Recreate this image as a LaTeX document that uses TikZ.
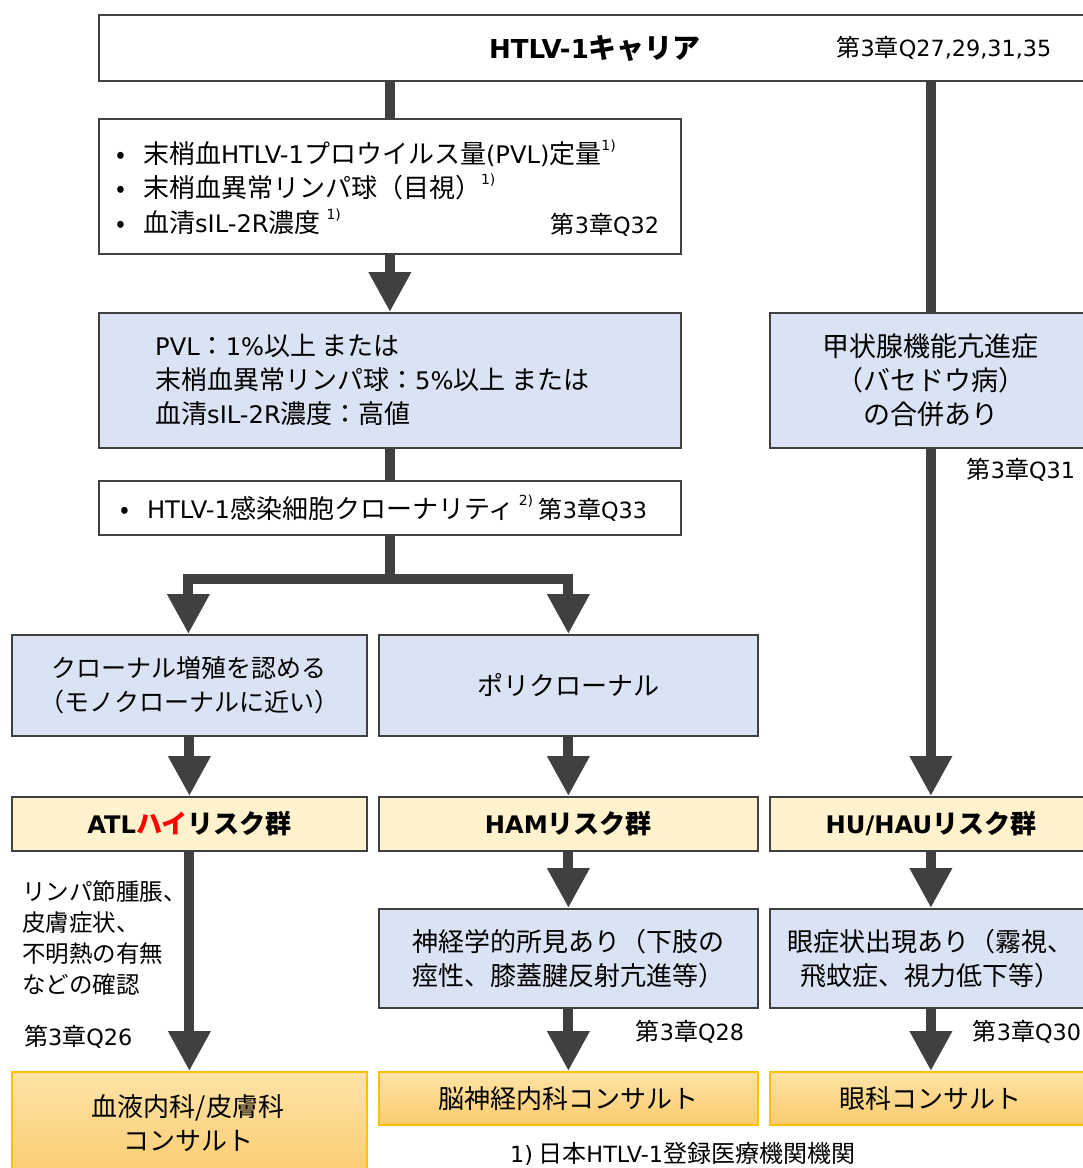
\documentclass[tikz,border=0pt]{standalone}
\usepackage{fontspec}
\setmainfont{Noto Sans CJK JP}
\newfontfamily\lat[Scale=0.93]{DejaVu Sans}
\usetikzlibrary{arrows.meta}
\definecolor{dk}{HTML}{404040}
\definecolor{bluef}{HTML}{DAE3F3}
\definecolor{yelf}{HTML}{FFF2CC}
\definecolor{orT}{HTML}{FFE3A6}
\definecolor{orB}{HTML}{F9CB6E}
\definecolor{orD}{HTML}{FFC000}
\newcommand\latn[1]{{\lat #1}}
\newcommand\fnm[1]{\raisebox{0.5em}{\fontsize{15}{15}\selectfont\lat #1}}
\begin{document}
\begin{tikzpicture}[x=1pt,y=-1pt,
  box/.style={draw=dk,line width=1.8pt,inner sep=0pt,anchor=north west},
  wbox/.style={box,fill=white},
  bbox/.style={box,fill=bluef,align=center,font=\fontsize{26}{34}\selectfont},
  ybox/.style={box,fill=yelf,font=\fontsize{26}{34}\selectfont\bfseries},
  obox/.style={draw=orD,line width=1.8pt,inner sep=0pt,anchor=north west,top color=orT,bottom color=orB,align=center,font=\fontsize{26}{34}\selectfont},
  txt/.style={inner sep=0pt,font=\fontsize{26}{34}\selectfont},
  ref/.style={inner sep=0pt,font=\fontsize{24}{30}\selectfont},
  conn/.style={draw=dk,line width=10pt,line join=miter},
  arr/.style={conn,-{Triangle[length=40pt,width=40pt]}}]
\useasboundingbox (0,0) rectangle (1083,1168);
\clip (0,0) rectangle (1083,1168);
% top
\node[wbox,minimum width=1000pt,minimum height=66pt] (top) at (98,14) {};
\node[inner sep=0pt,font=\fontsize{28}{34}\selectfont\bfseries] (toptxt) at (595,48) {\latn{HTLV-1}キャリア};
\node[ref] (topref) at (944,48) {第\latn{3}章\latn{Q27,29,31,35}};
% box2
\node[wbox,minimum width=582pt,minimum height=135pt] (b2) at (98,118) {};
\node[txt,anchor=west] (b2l1) at (116,153) {•\hspace{18pt}末梢血\latn{HTLV-1}プロウイルス量\latn{(PVL)}定量\fnm{1)}};
\node[txt,anchor=west] (b2l2) at (116,187) {•\hspace{18pt}末梢血異常リンパ球（目視）\fnm{1)}};
\node[txt,anchor=west] (b2l3) at (116,222) {•\hspace{18pt}血清\latn{sIL-2R}濃度 \fnm{1)}};
\node[ref] (b2ref) at (605,225) {第\latn{3}章\latn{Q32}};
% box3
\node[box,fill=bluef,minimum width=582pt,minimum height=135pt] (b3) at (98,312) {};
\node[txt,anchor=west] (b3l1) at (155,346) {\latn{PVL}：\latn{1\%}以上 または};
\node[txt,anchor=west] (b3l2) at (155,380) {末梢血異常リンパ球：\latn{5\%}以上 または};
\node[txt,anchor=west] (b3l3) at (155,414) {血清\latn{sIL-2R}濃度：高値};
% box4
\node[wbox,minimum width=582pt,minimum height=54pt] (b4) at (98,480) {};
\node[txt,anchor=west] (b4l) at (120,508) {•\hspace{18pt}\latn{HTLV-1}感染細胞クローナリティ\,\fnm{2)} {\fontsize{24}{30}\selectfont 第\latn{3}章\latn{Q33}}};
% box5
\node[bbox,minimum width=355pt,minimum height=101pt,font=\fontsize{25}{34}\selectfont] (b5a) at (11,634) {クローナル増殖を認める\\（モノクローナルに近い）};
\node[bbox,minimum width=379pt,minimum height=101pt] (b5b) at (378,634) {ポリクローナル};
% thyroid
\node[bbox,minimum width=322pt,minimum height=135pt,font=\fontsize{27}{34}\selectfont] (thy) at (769,312) {甲状腺機能亢進症\\（バセドウ病）\\の合併あり};
\node[ref] (thyref) at (1021,470) {第\latn{3}章\latn{Q31}};
% risk row
\node[ybox,minimum width=355pt,minimum height=54pt] (atl) at (11,796) {\latn{ATL}{\color{red}ハイ}リスク群};
\node[ybox,minimum width=379pt,minimum height=54pt] (ham) at (378,796) {\latn{HAM}リスク群};
\node[ybox,minimum width=322pt,minimum height=54pt] (hu) at (769,796) {\latn{HU/HAU}リスク群};
% symptoms
\node[bbox,minimum width=379pt,minimum height=99pt] (neu) at (378,908) {神経学的所見あり（下肢の\\痙性、膝蓋腱反射亢進等）};
\node[bbox,minimum width=322pt,minimum height=99pt] (eye) at (769,908) {眼症状出現あり（霧視、\\飛蚊症、視力低下等）};
\node[inner sep=0pt,anchor=north west,align=left,font=\fontsize{23.5}{31}\selectfont] (atlnote) at (22,880) {リンパ節腫脹、\\皮膚症状、\\不明熱の有無\\などの確認};
\node[ref,anchor=west] (atlref) at (24,1037) {第\latn{3}章\latn{Q26}};
\node[ref] (neuref) at (690,1032) {第\latn{3}章\latn{Q28}};
\node[ref] (eyeref) at (1027,1032) {第\latn{3}章\latn{Q30}};
% consult
\node[obox,minimum width=355pt,minimum height=110pt] (bld) at (11,1071) {};
\node[txt,align=center] (bldt) at (188,1123) {血液内科/皮膚科\\コンサルト};
\node[obox,minimum width=379pt,minimum height=53pt] (neuc) at (378,1071) {脳神経内科コンサルト};
\node[obox,minimum width=322pt,minimum height=53pt] (eyec) at (769,1071) {眼科コンサルト};
\node[ref,anchor=west] (foot) at (510,1154) {\latn{1)} 日本\latn{HTLV-1}登録医療機関機関};
% connectors
\draw[conn] (b2.north |- top.south) -- (b2.north);
\draw[arr] (b2.south) -- (b3.north);
\draw[conn] (b3.south) -- (b4.north);
\draw[arr] (b4.south) -- ++(0,43) -| ([xshift=-1pt]b5a.north);
\draw[arr] (b4.south) -- ++(0,43) -| (b5b.north);
\draw[conn] (thy.north |- top.south) -- (thy.north);
\draw[arr] (thy.south) -- (hu.north);
\draw[arr] (b5a.south) -- (atl.north);
\draw[arr] (b5b.south) -- (ham.north);
\draw[arr] (atl.south) -- (bld.north);
\draw[arr] (ham.south) -- (neu.north);
\draw[arr] (hu.south) -- (eye.north);
\draw[arr] (neu.south) -- (neuc.north);
\draw[arr] (eye.south) -- (eyec.north);
\end{tikzpicture}
\end{document}
